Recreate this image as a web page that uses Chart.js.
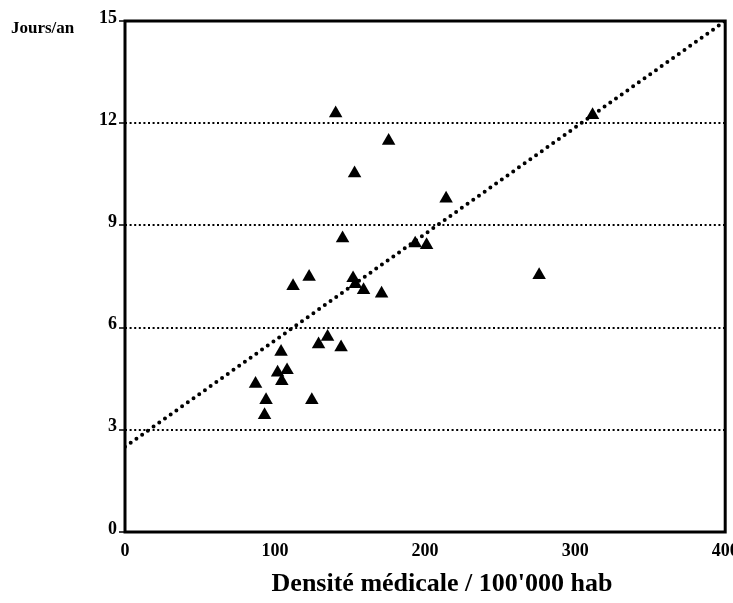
<!DOCTYPE html>
<html>
<head>
<meta charset="utf-8">
<script src="https://cdn.jsdelivr.net/npm/chart.js@4"></script>
<style>
  body { margin: 0; background: #fff; }
  #wrap { width: 733px; height: 603px; }
</style>
</head>
<body>
<div id="wrap"><canvas id="myChart" width="733" height="603"></canvas></div>
<script>
// densite medicale (pour 100'000 hab) vs jours/an
var densite = [87, 94, 93, 124.5, 104, 101.7, 108, 104.5, 129, 135, 144,
  112, 122.7, 152, 153.5, 159, 171, 140.4, 175.7, 153, 214, 145, 193.4, 201, 311.6, 276];
var jours = [4.35, 3.87, 3.43, 3.87, 5.29, 4.68, 4.75, 4.43, 5.51, 5.73, 5.42,
  7.22, 7.49, 7.45, 7.28, 7.1, 7.0, 12.29, 11.48, 10.53, 9.79, 8.62, 8.47, 8.42, 12.24, 7.54];

// droite de regression
var fitX = [0, 400];
var fitY = [2.5, 15];

var xTicks = [0, 100, 200, 300, 400];
var yTicks = [0, 3, 6, 9, 12, 15];

var xTitle = "Densité médicale / 100'000 hab";
var yTitle = 'Jours/an';

var serif = "'Liberation Serif', 'Times New Roman', serif";

function toPoints(xs, ys){
  var pts = [];
  for (var i = 0; i < xs.length; i++) {
    pts.push({x: xs[i], y: ys[i]});
  }
  return pts;
}

var framePlugin = {
  id: 'frame',
  afterDatasetsDraw: function(chart){
    var a = chart.chartArea;
    var ctx = chart.ctx;
    ctx.save();
    ctx.strokeStyle = '#000';
    ctx.lineWidth = 3;
    ctx.setLineDash([]);
    ctx.strokeRect(a.left, a.top, a.right - a.left, a.bottom - a.top);
    ctx.restore();
  },
  afterDraw: function(chart){
    var ctx = chart.ctx;
    ctx.save();
    ctx.fillStyle = '#000';
    ctx.textBaseline = 'alphabetic';
    ctx.font = "bold 17px " + serif;
    ctx.textAlign = 'left';
    ctx.fillText(yTitle, 11, 33);
    ctx.font = "bold 26px " + serif;
    ctx.textAlign = 'center';
    ctx.fillText(xTitle, 442, 591);
    ctx.restore();
  }
};

var ctx = document.getElementById('myChart').getContext('2d');
var myChart = new Chart(ctx, {
  type: 'scatter',
  data: {
    datasets: [{
      data: toPoints(densite, jours),
      pointStyle: 'triangle',
      pointRadius: 7.8,
      backgroundColor: '#000',
      borderColor: '#000',
      borderWidth: 0
    }, {
      type: 'line',
      data: toPoints(fitX, fitY),
      showLine: true,
      pointRadius: 0,
      borderColor: '#000',
      borderWidth: 4,
      borderDash: [0, 7],
      borderCapStyle: 'round',
      fill: false
    }]
  },
  options: {
    responsive: false,
    animation: false,
    events: [],
    layout: { padding: { left: 0, right: 6, top: 21, bottom: 0 } },
    plugins: { legend: { display: false }, tooltip: { enabled: false } },
    scales: {
      x: {
        type: 'linear',
        min: 0, max: 400,
        afterBuildTicks: function(s){ s.ticks = xTicks.map(function(v){ return {value: v}; }); },
        afterFit: function(s){ s.height = 71; s.paddingLeft = 0; s.paddingRight = 0; },
        grid: { display: false },
        border: { display: false },
        ticks: {
          color: '#000',
          padding: 1,
          maxRotation: 0,
          autoSkip: false,
          font: { family: serif, size: 18, weight: 'bold' }
        }
      },
      y: {
        min: 0, max: 15,
        afterBuildTicks: function(s){ s.ticks = yTicks.map(function(v){ return {value: v}; }); },
        afterFit: function(s){ s.width = 125; s.paddingTop = 0; s.paddingBottom = 0; },
        grid: {
          color: '#000',
          lineWidth: 2,
          drawTicks: true,
          tickLength: 6,
          tickWidth: 1.5,
          tickColor: '#000',
          tickBorderDash: []
        },
        border: { display: false, dash: [2, 2.6] },
        ticks: {
          color: '#000',
          padding: 2,
          labelOffset: -3,
          font: { family: serif, size: 18, weight: 'bold' }
        }
      }
    }
  },
  plugins: [framePlugin]
});
</script>
</body>
</html>
